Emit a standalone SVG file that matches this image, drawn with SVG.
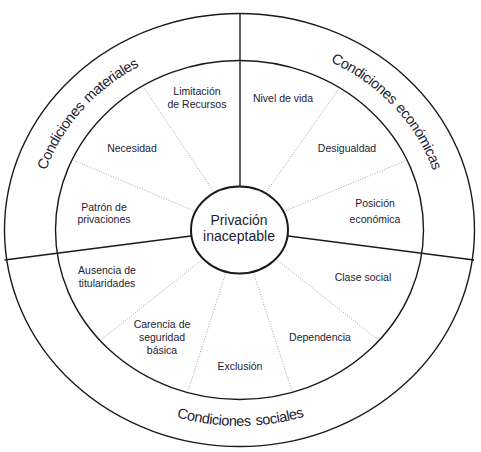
<svg xmlns="http://www.w3.org/2000/svg" width="481" height="452" viewBox="0 0 481 452">
  <style>
    .ring { fill: none; stroke: #1a1a1a; stroke-width: 1.4; }
    .div { stroke: #1a1a1a; stroke-width: 1.4; fill: none; }
    .dot { stroke: #8a8a8a; stroke-width: 0.8; stroke-dasharray: 1 1.6; fill: none; }
    .lbl { font-family: "Liberation Sans", Arial, sans-serif; font-size: 10.5px; fill: #1e2233; text-anchor: middle; }
    .cat { font-family: "Liberation Sans", Arial, sans-serif; font-size: 14.5px; fill: #1e2233; letter-spacing: -0.45px; }
    .ctr { font-family: "Liberation Sans", Arial, sans-serif; font-size: 15.5px; fill: #1e2233; text-anchor: middle; }
  </style>
  <defs>
    <path id="arcMat" d="M 47.8 294.3 A 204 188 0 0 1 274.9 44.9"/>
    <path id="arcEco" d="M 200.6 45.5 A 204 188 0 0 1 432.4 291.2"/>
    <path id="arcSoc" d="M 55.5 328 A 212.5 196 0 0 0 423.5 328"/>
  </defs>
  <rect width="481" height="452" fill="#ffffff"/>

  <g id="rings">
    <ellipse class="ring" cx="239.5" cy="230" rx="235" ry="216.5"/>
    <ellipse class="ring" cx="239.5" cy="230" rx="184" ry="169.5"/>
  </g>

  <g id="connectors">
    <line class="div" x1="240" y1="13.5" x2="240" y2="186.5" stroke-width="2"/>
    <line class="div" x1="4.5" y1="260" x2="191" y2="236"/>
    <line class="div" x1="288" y1="236" x2="474" y2="260"/>
    <line class="dot" x1="214.4" y1="192.7" x2="142" y2="85"/>
    <line class="dot" x1="195.6" y1="211.5" x2="73" y2="160"/>
    <line class="dot" x1="265.4" y1="193.2" x2="338" y2="90"/>
    <line class="dot" x1="283.5" y1="211.6" x2="407" y2="160"/>
    <line class="dot" x1="203.2" y1="258.8" x2="102" y2="339"/>
    <line class="dot" x1="226.1" y1="271.8" x2="188" y2="391"/>
    <line class="dot" x1="253.1" y1="271.8" x2="292" y2="391"/>
    <line class="dot" x1="275.8" y1="258.8" x2="377" y2="339"/>
  </g>

  <g id="center">
    <ellipse cx="239.5" cy="230" rx="48.5" ry="43.5" fill="#ffffff" stroke="#1a1a1a" stroke-width="2"/>
    <text class="ctr" x="239" y="225" textLength="57" lengthAdjust="spacingAndGlyphs">Privación</text>
    <text class="ctr" x="239" y="240.5" textLength="72" lengthAdjust="spacingAndGlyphs">inaceptable</text>
  </g>

  <g id="cond-materiales">
    <text class="cat" text-anchor="end"><textPath href="#arcMat" startOffset="49.3%">Condiciones</textPath></text>
    <text class="cat" text-anchor="start"><textPath href="#arcMat" startOffset="50.5%">materiales</textPath></text>
  </g>
  <g id="cond-economicas">
    <text class="cat" text-anchor="end"><textPath href="#arcEco" startOffset="50.8%">Condiciones</textPath></text>
    <text class="cat" text-anchor="start"><textPath href="#arcEco" startOffset="52%">económicas</textPath></text>
  </g>
  <g id="cond-sociales">
    <text class="cat" text-anchor="end"><textPath href="#arcSoc" startOffset="52.6%">Condiciones</textPath></text>
    <text class="cat" text-anchor="start"><textPath href="#arcSoc" startOffset="53.8%">sociales</textPath></text>
  </g>

  <g id="limitacion"><text class="lbl" x="197" y="95">Limitación</text><text class="lbl" x="197" y="108">de Recursos</text></g>
  <g id="necesidad"><text class="lbl" x="132" y="152">Necesidad</text></g>
  <g id="patron"><text class="lbl" x="104" y="211">Patrón de</text><text class="lbl" x="104" y="223">privaciones</text></g>
  <g id="nivel"><text class="lbl" x="283" y="102">Nivel de vida</text></g>
  <g id="desigualdad"><text class="lbl" x="347" y="152">Desigualdad</text></g>
  <g id="posicion"><text class="lbl" x="375" y="207">Posición</text><text class="lbl" x="375" y="223">económica</text></g>
  <g id="clase"><text class="lbl" x="363" y="281">Clase social</text></g>
  <g id="dependencia"><text class="lbl" x="320" y="341">Dependencia</text></g>
  <g id="exclusion"><text class="lbl" x="240" y="370">Exclusión</text></g>
  <g id="carencia"><text class="lbl" x="162" y="328">Carencia de</text><text class="lbl" x="162" y="341">seguridad</text><text class="lbl" x="162" y="354">básica</text></g>
  <g id="ausencia"><text class="lbl" x="107" y="274">Ausencia de</text><text class="lbl" x="107" y="287">titularidades</text></g>
</svg>
